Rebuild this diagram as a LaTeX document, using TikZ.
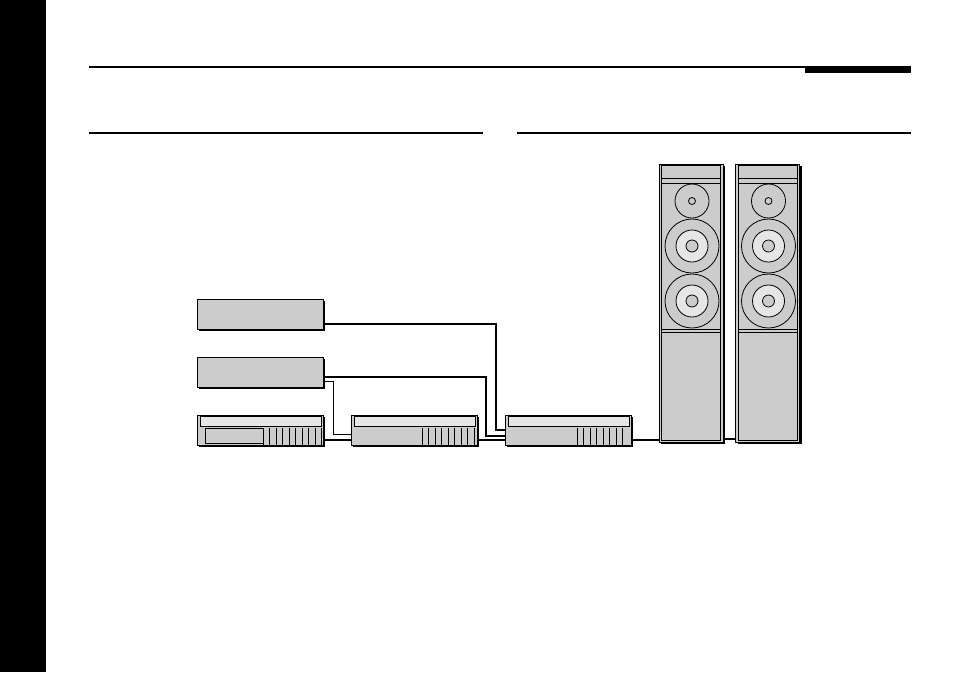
\documentclass[tikz,border=0pt]{standalone}
\usetikzlibrary{calc,shadows}
\definecolor{boxgray}{RGB}{204,204,204}
\definecolor{stripgray}{RGB}{230,230,230}
\tikzset{every picture/.style={line width=0.75pt},
  unitbox/.style={draw,fill=boxgray,inner sep=0pt,minimum width=94.5pt,minimum height=22.5pt,
    drop shadow={shadow xshift=1.6pt,shadow yshift=-1.6pt,fill=black,opacity=1}},
  spkbox/.style={draw,fill=boxgray,inner sep=0pt,minimum width=48pt,minimum height=208.5pt,
    drop shadow={shadow xshift=1.6pt,shadow yshift=-1.6pt,fill=black,opacity=1}},
  cable/.style={line width=1.5pt},
  rule/.style={line width=1.1pt}}
\begin{document}
\begin{tikzpicture}[x=0.75pt,y=0.75pt,yscale=-1,xscale=1]
\useasboundingbox (0,0) rectangle (954,672);
%left bar and page rules
\fill (0,0) rectangle (46,672);
\draw[rule] (89,67) -- (911,67);
\fill (805,67) rectangle (911,73);
\draw[rule] (89,133) -- (483,133);
\draw[rule] (517,133) -- (911,133);

%sources
\node[unitbox,minimum height=22.5pt] (boxA) at (260,314) {};
\node[unitbox,minimum height=22.5pt] (boxB) at (260,372) {};

%decks
\foreach \n/\x/\lx/\k in {unitA/260/263/9,unitB/414/422/8,unitC/568/577/7}{
  \node[unitbox] (\n) at (\x,430) {};
  \draw[fill=stripgray,line width=0.6pt] ($(\n.north west)+(4,2)$) rectangle ($(\n.north east)+(-2,12)$);
  \foreach \i in {0,...,\k}
    \draw[line width=0.6pt] (\lx+\i*6.5,428) -- (\lx+\i*6.5,445);
}
\draw[line width=0.6pt] (205,428) rectangle (263,443);

%speakers
\foreach \n/\x in {spkL/691,spkR/767.5}{
  \node[spkbox] (\n) at (\x,303) {};
  \draw[line width=0.6pt] ($(\n.north west)+(3,2)$) rectangle ($(\n.south east)+(-3,-2)$);
  \draw[line width=0.6pt] (\x-29,178) -- (\x+29,178) (\x-29,183) -- (\x+29,183);
  \draw[line width=0.6pt] (\x-29,329) -- (\x+29,329) (\x-29,332) -- (\x+29,332);
  \draw[line width=0.6pt] (\x+1,201) circle (17) (\x+1,201) circle (3.5);
  \foreach \y in {246,301}{
    \draw[line width=0.6pt] (\x+1,\y) circle (27);
    \draw[line width=0.6pt,fill=stripgray] (\x+1,\y) circle (16);
    \draw[line width=0.6pt,fill=boxgray] (\x+1,\y) circle (6);
  }
}

%cables
\draw[cable] ($(boxA.east)+(0,10)$) -- (496,324) |- (unitC.west);
\draw[cable] ($(boxB.east)+(0,5)$) -- (486,377) |- ($(unitC.west)+(0,6)$);
\draw[line width=0.75pt] ($(boxB.east)+(0,9)$) -- (333,381) |- ($(unitB.west)+(0,4)$);
\draw[cable] ($(unitA.east)+(0,10)$) -- ($(unitB.west)+(0,10)$);
\draw[cable] ($(unitB.east)+(0,10)$) -- ($(unitC.west)+(0,10)$);
\draw[cable] ($(unitC.east)+(0,10)$) -- (spkL.west |- 0,440);
\draw[cable] (spkL.east |- 0,439) -- (spkR.west |- 0,439);
\end{tikzpicture}
\end{document}
